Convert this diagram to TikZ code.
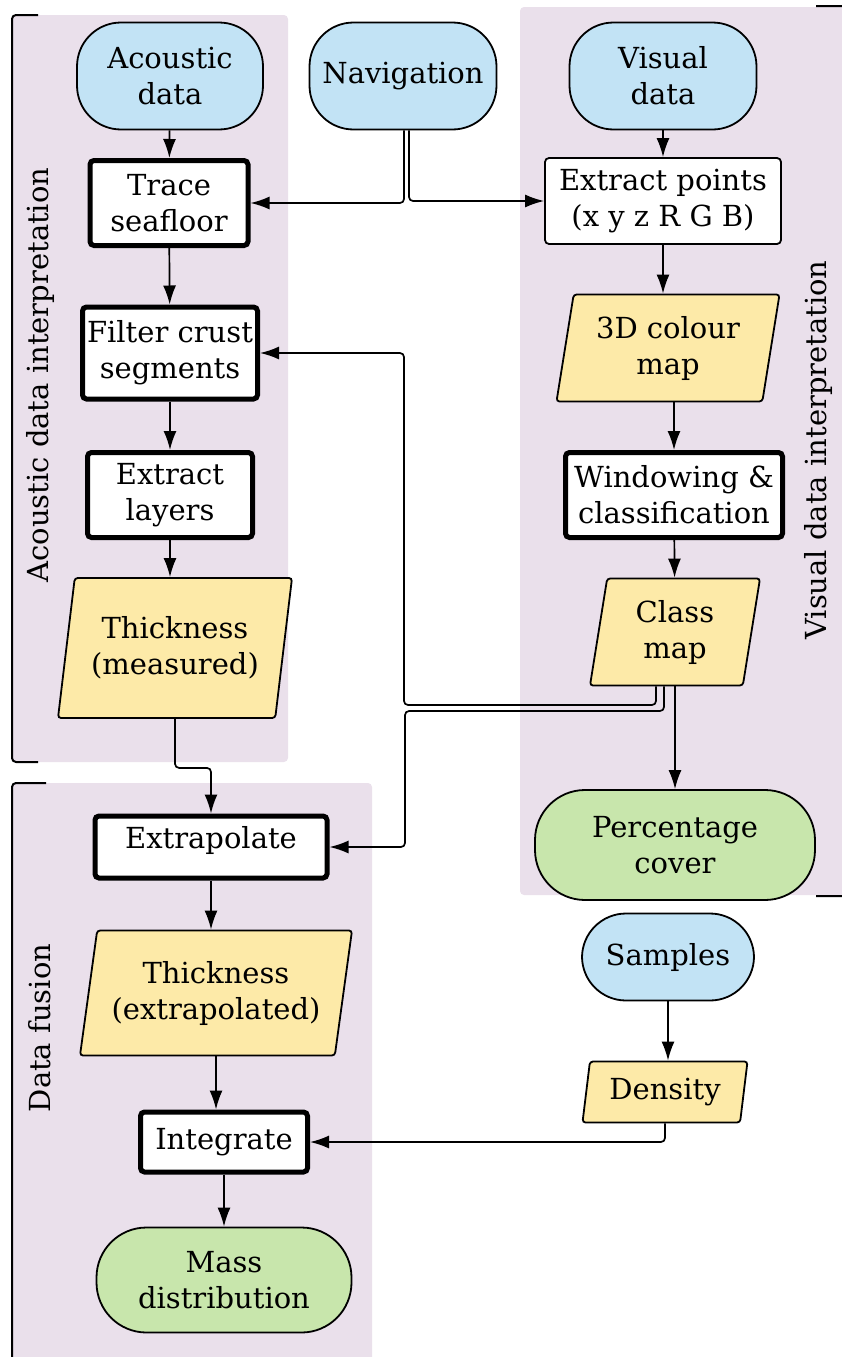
\documentclass[tikz,border=0pt]{standalone}
\usepackage{fontspec}
\setmainfont{DejaVu Serif}
\usetikzlibrary{positioning}
\usetikzlibrary{shapes.geometric}
\usetikzlibrary{arrows.meta}
\definecolor{srcblue}{RGB}{194, 227, 245}
\definecolor{datayellow}{RGB}{253, 234, 168}
\definecolor{outgreen}{RGB}{200, 230, 172}
\definecolor{panelpink}{RGB}{234, 224, 235}

\tikzset{
    every node/.style={font=\fontsize{29}{36}\selectfont, align=center, inner sep=0pt},
    source/.style={draw, fill=srcblue, line width=1.8pt, rounded corners=44pt},
    result/.style={draw, fill=outgreen, line width=1.8pt, rounded corners=50pt},
    mainstep/.style={draw, fill=white, line width=5pt, rounded corners=4pt},
    plainstep/.style={draw, fill=white, line width=1.8pt, rounded corners=4pt},
    dataset/.style={draw, fill=datayellow, line width=1.8pt, rounded corners=3pt,
        trapezium, trapezium left angle=75, trapezium right angle=105,
        trapezium stretches body},
    flow/.style={line width=1.7pt, rounded corners=4pt, -{Latex[length=19pt, width=13pt]}},
    bracket/.style={line width=2pt, rounded corners=4pt},
}

\begin{document}
\begin{tikzpicture}[x=1pt, y=-1pt]
    \useasboundingbox (0,0) rectangle (841,1357);
    % Panels
    \fill[panelpink, rounded corners=4pt] (12,15) rectangle (288,762);
    \fill[panelpink, rounded corners=4pt] (520,7) rectangle (870,895);
    \fill[panelpink, rounded corners=4pt] (12,783) rectangle (372,1370);
    \draw[bracket] (38,15) -- (12,15) -- (12,762) -- (38,762);
    \draw[bracket] (46,783) -- (12,783) -- (12,1370);
    \draw[bracket] (816,6) -- (862,6) -- (862,896) -- (816,896);
    \node[rotate=90] (acolabel) at (40,375) {Acoustic data interpretation};
    \node[rotate=90] (vislabel) at (818,450) {Visual data interpretation};
    \node[rotate=90] (fuslabel) at (40,1028) {Data fusion};

    % Sources
    \node[source, minimum width=186pt, minimum height=107pt] (acoustic) at (170,76) {Acoustic\\data};
    \node[source, minimum width=187pt, minimum height=107pt] (nav) at (403,76) {Navigation};
    \node[source, minimum width=187pt, minimum height=107pt] (visual) at (663,76) {Visual\\data};
    \node[source, minimum width=172pt, minimum height=87pt] (samples) at (668,957) {Samples};

    % Acoustic side
    \node[mainstep, minimum width=158pt, minimum height=85pt] (trace) at (169,203) {Trace\\seafloor};
    \node[mainstep, minimum width=175pt, minimum height=92pt] (filter) at (170,353) {Filter crust\\segments};
    \node[mainstep, minimum width=165pt, minimum height=85pt] (layers) at (170,495) {Extract\\layers};
    \node[dataset, minimum width=234pt, minimum height=140pt] (thkm) at (175,648) {Thickness\\(measured)};

    % Visual side
    \node[plainstep, minimum width=236pt, minimum height=86pt] (points) at (663,201) {Extract points\\(x y z R G B)};
    \node[dataset, minimum width=223pt, minimum height=107pt] (cmap) at (668,348) {3D colour\\map};
    \node[mainstep, minimum width=217pt, minimum height=85pt] (window) at (674,495) {Windowing \&\\classification};
    \node[dataset, minimum width=170pt, minimum height=107pt] (cls) at (675,632) {Class\\map};
    \node[result, minimum width=280pt, minimum height=110pt] (cover) at (675,845) {Percentage\\cover};

    % Fusion
    \node[mainstep, minimum width=232pt, minimum height=62pt, text depth=20pt] (extrap) at (211,847) {Extrapolate};
    \node[dataset, minimum width=272pt, minimum height=125pt] (thke) at (216,993) {Thickness\\(extrapolated)};
    \node[dataset, minimum width=165pt, minimum height=61pt] (density) at (665,1092) {Density};
    \node[mainstep, minimum width=167pt, minimum height=60pt] (integ) at (224,1142) {Integrate};
    \node[result, minimum width=255pt, minimum height=105pt] (mass) at (224,1280) {Mass\\distribution};

    % Connectors
    \draw[flow] (acoustic) -- (trace);
    \draw[flow] ([xshift=1pt]nav.south) |- (trace.east);
    \draw[flow] ([xshift=6pt]nav.south) |- (points.west);
    \draw[flow] (visual) -- (points);
    \draw[flow] (trace) -- (filter);
    \draw[flow] (filter) -- (layers);
    \draw[flow] (layers.south) -- (layers.south |- thkm.north);
    \draw[flow] (points.south) -- (points.south |- cmap.north);
    \draw[flow] (window.north |- cmap.south) -- (window.north);
    \draw[flow] (window) -- (cls);
    \draw[flow] (cls.south) -- (cls.south |- cover.north);
    \draw[flow] ([xshift=-19pt]cls.south) |- (404,705) |- (filter.east);
    \draw[flow] ([xshift=-11pt]cls.south) |- (405,711) |- (extrap.east);
    \draw[flow] (thkm.south) -- ++(0,49) -| (extrap.north);
    \draw[flow] (extrap.south) -- (extrap.south |- thke.north);
    \draw[flow] (thke.south) -- (thke.south |- integ.north);
    \draw[flow] (samples.south) -- (samples.south |- density.north);
    \draw[flow] (density.south) |- (integ.east);
    \draw[flow] (integ) -- (mass);
\end{tikzpicture}
\end{document}
